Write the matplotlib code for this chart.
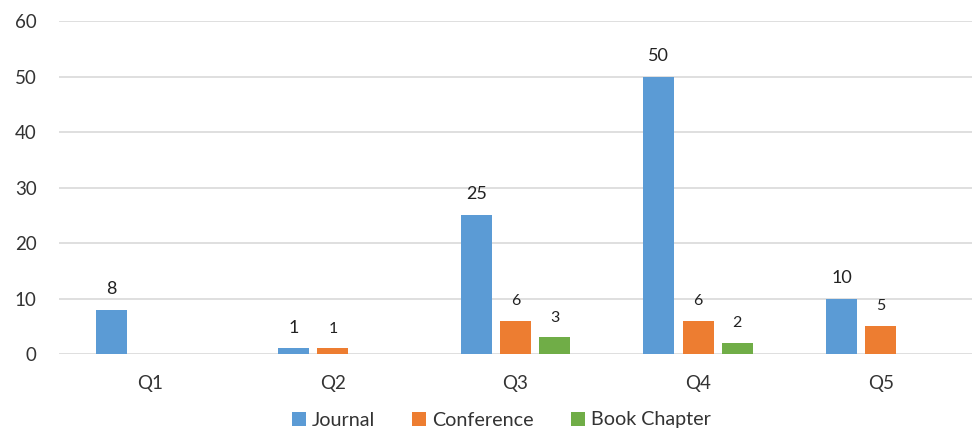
import numpy as np
import matplotlib.pyplot as plt

plt.rcParams['font.family'] = ['Lato', 'DejaVu Sans']

categories = ["Q1", "Q2", "Q3", "Q4", "Q5"]
journal = [8, 1, 25, 50, 10]
conference = [0, 1, 6, 6, 5]
book_chapter = [0, 0, 3, 2, 0]

series = [
    ("Journal", journal, "#5B9BD5", 13),
    ("Conference", conference, "#ED7D31", 11.5),
    ("Book Chapter", book_chapter, "#70AD47", 11.5),
]

fig = plt.figure(figsize=(9.77, 4.34), dpi=100)
ax = fig.add_axes([59 / 977, 1 - 354 / 434, 913 / 977, 333 / 434])

x = np.arange(len(categories))
step = 0.215
width = 0.17
for i, (name, vals, color, fs) in enumerate(series):
    pos = x + (i - 1) * step
    bars = ax.bar(pos, vals, width, color=color, label=name, zorder=3)
    for b, v in zip(bars, vals):
        if v > 0:
            ax.text(b.get_x() + b.get_width() / 2, v + 2.3, str(v),
                    ha="center", va="bottom", fontsize=fs, color="#222222")

ax.set_xlim(-0.5, len(categories) - 0.5)
ax.set_ylim(0, 60)
ax.set_yticks(range(0, 61, 10))
ax.set_xticks(x)
ax.set_xticklabels(categories)
ax.grid(axis="y", color="#D9D9D9", linewidth=1.2, zorder=0)
for s in ax.spines.values():
    s.set_visible(False)
ax.tick_params(axis="both", length=0, labelsize=13.5, colors="#333333")
ax.tick_params(axis="x", pad=15)
ax.tick_params(axis="y", pad=16)

# legend sits under the axis, a bit right of centre like the original
ax.legend(loc="center", bbox_to_anchor=(0.513, 1 - 420 / 434),
          bbox_transform=fig.transFigure, ncol=3,
          frameon=False, fontsize=14.2, handlelength=0.7, handleheight=0.7,
          handletextpad=0.3, columnspacing=1.9, labelcolor="#333333")

fig.savefig("out.png", dpi=100)
